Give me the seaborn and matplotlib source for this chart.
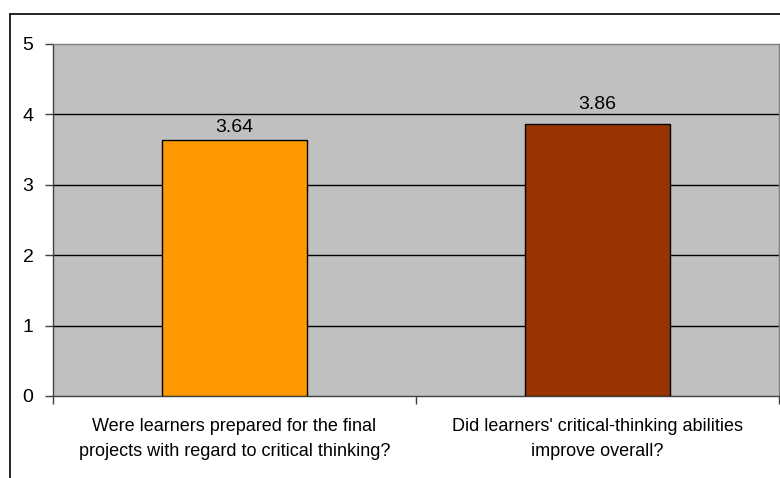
import matplotlib
matplotlib.use("Agg")
import matplotlib.pyplot as plt
from matplotlib.lines import Line2D
from matplotlib.ticker import FixedLocator
import seaborn as sns
import pandas as pd

questions = [
    "Were learners prepared for the final\nprojects with regard to critical thinking?",
    "Did learners' critical-thinking abilities\nimprove overall?",
]
scores = [3.64, 3.86]
bar_colors = ["#FF9900", "#993300"]
y_ticks = [0, 1, 2, 3, 4, 5]

sns.set_theme(style="white")
plt.rcParams["font.family"] = ["Liberation Sans", "DejaVu Sans"]

df = pd.DataFrame({"question": questions, "score": scores})

W, H = 780, 478
fig = plt.figure(figsize=(W / 100, H / 100), dpi=100)
fig.patch.set_facecolor("white")

left, right, top, bottom = 53, 779, 44, 396
ax = fig.add_axes([left / W, 1 - bottom / H, (right - left) / W, (bottom - top) / H])

sns.barplot(
    data=df, x="question", y="score", hue="question",
    palette=bar_colors, saturation=1, width=0.40, edgecolor="black", linewidth=1.0,
    legend=False, ax=ax, zorder=3,
)

NUM_FS = 14
CAT_FS = 13
ax.set_facecolor("#C0C0C0")
ax.set_xlim(-0.5, 1.5)
ax.set_ylim(0, 5)
ax.set_yticks(y_ticks)
ax.set_yticklabels([str(t) for t in y_ticks], fontsize=NUM_FS, color="black")

# gridlines on whole units
for t in y_ticks[1:-1]:
    ax.axhline(t, color="black", linewidth=1.0, zorder=1)

# category boundaries as major ticks, labels on minor ticks at bar centres
ax.xaxis.set_major_locator(FixedLocator([-0.5, 0.5, 1.5]))
ax.xaxis.set_minor_locator(FixedLocator([0, 1]))
ax.set_xticklabels([], minor=False)
ax.set_xticklabels(questions, minor=True, fontsize=CAT_FS, color="black", linespacing=1.62)
ax.tick_params(axis="x", which="major", length=6, width=1, color="#404040", direction="out", bottom=True)
ax.tick_params(axis="x", which="minor", length=0, pad=15.5)
ax.tick_params(axis="y", length=6, width=1, color="#404040", direction="out", left=True, pad=8)
ax.set_xlabel("")
ax.set_ylabel("")

for side in ["top", "right"]:
    ax.spines[side].set_color("#808080")
    ax.spines[side].set_linewidth(1.0)
for side in ["left", "bottom"]:
    ax.spines[side].set_color("#404040")
    ax.spines[side].set_linewidth(1.0)

# value labels above each bar (the second one sits clear of the gridline)
label_offsets_pt = [5.8, 10.8]
for i, v in enumerate(scores):
    ax.annotate(f"{v:.2f}", xy=(i, v), xytext=(0, label_offsets_pt[i]), textcoords="offset points",
                ha="center", va="baseline", fontsize=NUM_FS, color="black")

# chart frame (runs off the right and bottom edges)
fx0 = 9.5 / W
fy0 = 1 - 13.5 / H
fig.add_artist(Line2D([fx0, 1.0], [fy0, fy0], transform=fig.transFigure, color="black", linewidth=1.2))
fig.add_artist(Line2D([fx0, fx0], [0.0, fy0], transform=fig.transFigure, color="black", linewidth=1.2))

fig.savefig("out.png", dpi=100)
